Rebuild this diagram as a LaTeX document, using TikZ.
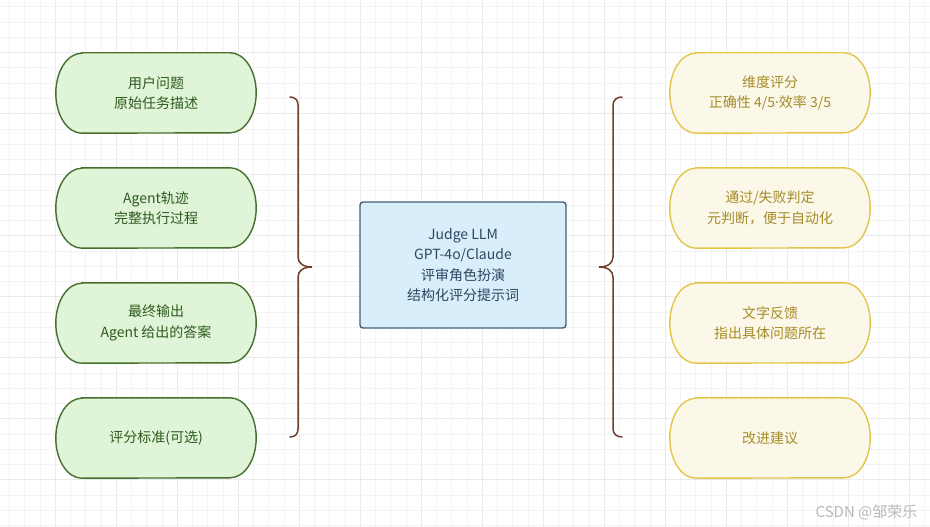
\documentclass[tikz,border=0pt]{standalone}
\usepackage{fontspec}
\newfontfamily\cjk{Noto Sans CJK SC}
\newfontfamily\latinsans{Noto Sans}
\usetikzlibrary{backgrounds,calc}
\definecolor{gfill}{HTML}{E0F4D8}
\definecolor{gdraw}{HTML}{46702F}
\definecolor{gtext}{HTML}{2E5A1F}
\definecolor{yfill}{HTML}{FCF8E9}
\definecolor{ydraw}{HTML}{E3C54A}
\definecolor{ytext}{HTML}{A58B28}
\definecolor{bfill}{HTML}{D9EEFB}
\definecolor{bdraw}{HTML}{42607A}
\definecolor{btext}{HTML}{2C4760}
\definecolor{brace}{HTML}{6E3F2B}
\definecolor{gridminor}{HTML}{F3F3F3}
\definecolor{gridmajor}{HTML}{EAEAEA}
\tikzset{
  txt/.style={align=center, font=\cjk\fontsize{14}{20.5}\selectfont, inner sep=0pt},
  slot/.style={txt, minimum width=200pt, minimum height=80pt},
  inbox/.style={slot, text=gtext},
  outbox/.style={slot, text=ytext},
  instyle/.style={fill=gfill, draw=gdraw, line width=1.4pt},
  outstyle/.style={fill=yfill, draw=ydraw, line width=1.4pt},
  judge/.style={txt, text=btext, fill=bfill, draw=bdraw, line width=1.4pt, rounded corners=3pt, minimum width=206pt, minimum height=126pt},
  bracestyle/.style={draw=brace, line width=1.5pt, line cap=round},
}
\newcommand\stadium[2]{%
  \path[#2] ([xshift=26pt]#1.north west) -- ([xshift=-26pt]#1.north east)
    arc[start angle=90, end angle=-90, x radius=26pt, y radius=40pt]
    -- ([xshift=26pt]#1.south west)
    arc[start angle=270, end angle=90, x radius=26pt, y radius=40pt] -- cycle;}
\begin{document}
\begin{tikzpicture}[x=1pt, y=-1pt]
\useasboundingbox (0,0) rectangle (930,527);
% nodes
\node[inbox] (in1) at (156,93) {用户问题\\原始任务描述};
\node[inbox] (in2) at (156,208) {Agent轨迹\\完整执行过程};
\node[inbox] (in3) at (156,323) {最终输出\\Agent 给出的答案};
\node[inbox] (in4) at (156,438) {评分标准(可选)};
\node[outbox] (out1) at (770,93) {维度评分\\正确性 4/5{\latinsans ·}效率 3/5};
\node[outbox] (out2) at (770,208) {通过/失败判定\\元判断，便于自动化};
\node[outbox] (out3) at (770,323) {文字反馈\\指出具体问题所在};
\node[outbox] (out4) at (770,438) {改进建议};
\node[judge] (judge) at (463,265) {Judge LLM\\GPT-4o/Claude\\评审角色扮演\\结构化评分提示词};
\node[font=\cjk\fontsize{15}{18}\selectfont, text=black!28, inner sep=0pt] (mark) at (866.5,512) {CSDN @邹荣乐};
\begin{scope}[on background layer]
  \fill[white] (0,0) rectangle (930,527);
  \foreach \i in {0,...,60} {
    \pgfmathsetmacro\xx{9.5+15.25*\i}
    \pgfmathtruncatemacro\m{mod(\i,4)}
    \ifnum\m=3
      \draw[gridmajor, line width=1.2pt] (\xx,0) -- (\xx,527);
    \else
      \draw[gridminor, line width=1pt] (\xx,0) -- (\xx,527);
    \fi
  }
  \foreach \i in {0,...,34} {
    \pgfmathsetmacro\yy{7+15.25*\i}
    \pgfmathtruncatemacro\m{mod(\i,4)}
    \ifnum\m=3
      \draw[gridmajor, line width=1.2pt] (0,\yy) -- (930,\yy);
    \else
      \draw[gridminor, line width=1pt] (0,\yy) -- (930,\yy);
    \fi
  }
  \foreach \n in {in1,in2,in3,in4} {\stadium{\n}{instyle}}
  \foreach \n in {out1,out2,out3,out4} {\stadium{\n}{outstyle}}
\end{scope}
% braces
\coordinate (lb1) at (290,97);
\coordinate (lb2) at (290,437);
\coordinate (ltip) at (312,267);
\coordinate (rb1) at (622,97);
\coordinate (rb2) at (622,437);
\coordinate (rtip) at (599,267);
\draw[bracestyle] (lb1) .. controls (295,97) and (298,100) .. (298,105) -- (298,257)
  .. controls (298,263) and (303,267) .. (ltip)
  .. controls (303,267) and (298,271) .. (298,277) -- (298,429)
  .. controls (298,434) and (295,437) .. (lb2);
\draw[bracestyle] (rb1) .. controls (617,97) and (613,100) .. (613,105) -- (613,257)
  .. controls (613,263) and (608,267) .. (rtip)
  .. controls (608,267) and (613,271) .. (613,277) -- (613,429)
  .. controls (613,434) and (617,437) .. (rb2);
\end{tikzpicture}
\end{document}
